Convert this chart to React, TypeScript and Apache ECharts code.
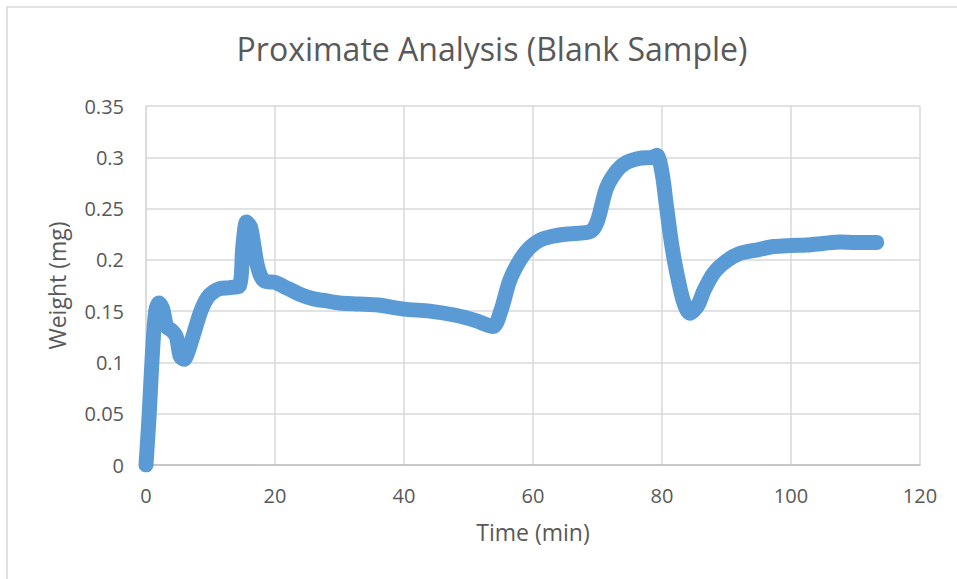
import React, { useEffect, useRef } from "react";
import * as echarts from "echarts";

// Time (min) and recorded weight (mg) of the blank sample run
const timeMin = [
  0, 0.5, 1.0, 1.5, 2.0, 2.6, 3.2, 4.0, 4.7, 5.3, 5.9, 6.6, 7.5, 8.5, 9.5, 10.5,
  11.5, 13, 14.5, 15.0, 15.6, 16.2, 16.7, 17.2, 17.8, 18.5, 20, 22, 24, 26, 28,
  30, 33, 36, 40, 44, 48, 51, 53.8, 55, 56.4, 58, 59.5, 61, 63, 65, 67, 69, 70,
  71.4, 73, 74.5, 76.5, 78.5, 79.2, 80, 80.7, 81.5, 82.3, 83.3, 84.3, 85.5, 86.5,
  88, 90, 92, 95, 97.3, 100, 102.4, 105, 107.6, 110, 113.3,
];
const weightMg = [
  0, 0.05, 0.11, 0.15, 0.158, 0.152, 0.135, 0.131, 0.125, 0.106, 0.103, 0.112,
  0.13, 0.15, 0.163, 0.169, 0.172, 0.173, 0.175, 0.212, 0.237, 0.232, 0.215, 0.196,
  0.184, 0.179, 0.178, 0.172, 0.166, 0.162, 0.16, 0.158, 0.157, 0.156, 0.152,
  0.15, 0.146, 0.141, 0.135, 0.15, 0.18, 0.2, 0.212, 0.219, 0.223, 0.225, 0.226,
  0.228, 0.238, 0.27, 0.287, 0.295, 0.299, 0.3, 0.302, 0.285, 0.252, 0.215,
  0.187, 0.16, 0.148, 0.155, 0.17, 0.187, 0.199, 0.206, 0.21, 0.213, 0.214,
  0.2145, 0.216, 0.2175, 0.217, 0.217,
];

const titleText = "Proximate Analysis (Blank Sample)";
const xAxisName = "Time (min)";
const yAxisName = "Weight (mg)";

const FONT = "'Open Sans', Lato, sans-serif";
const TEXT_COLOR = "#595959";

export default function App() {
  const ref = useRef<HTMLDivElement>(null);

  useEffect(() => {
    if (!ref.current) return;
    const chart = echarts.init(ref.current, undefined, { renderer: "svg" });
    const points = timeMin.map((t, i) => [t, weightMg[i]]);

    chart.setOption({
      animation: false,
      backgroundColor: "#ffffff",
      textStyle: { fontFamily: FONT },
      title: {
        text: titleText,
        left: 487,
        top: 27,
        textAlign: "center",
        textStyle: {
          fontFamily: FONT,
          fontSize: 32,
          fontWeight: "normal",
          color: TEXT_COLOR,
        },
      },
      graphic: [
        {
          type: "rect",
          shape: { x: 7, y: 7, width: 1000, height: 1000 },
          style: { fill: "none", stroke: "#D9D9D9", lineWidth: 1.5 },
          silent: true,
        },
      ],
      grid: { left: 146, right: 37, top: 106, bottom: 114 },
      xAxis: {
        type: "value",
        min: 0,
        max: 120,
        interval: 20,
        name: xAxisName,
        nameLocation: "middle",
        nameGap: 55,
        nameTextStyle: { fontFamily: FONT, fontSize: 23, color: TEXT_COLOR },
        axisLine: { show: true, lineStyle: { color: "#BFBFBF", width: 1.5 } },
        axisTick: { show: false },
        axisLabel: { fontFamily: FONT, fontSize: 20, color: TEXT_COLOR, margin: 20 },
        splitLine: { show: true, lineStyle: { color: "#D9D9D9", width: 1.5 } },
      },
      yAxis: {
        type: "value",
        min: 0,
        max: 0.35,
        interval: 0.05,
        name: yAxisName,
        nameLocation: "middle",
        nameGap: 78,
        nameTextStyle: { fontFamily: FONT, fontSize: 23, color: TEXT_COLOR },
        axisLine: { show: true, lineStyle: { color: "#D9D9D9", width: 1.5 } },
        axisTick: { show: false },
        axisLabel: { fontFamily: FONT, fontSize: 20, color: TEXT_COLOR, margin: 22 },
        splitLine: { show: true, lineStyle: { color: "#D9D9D9", width: 1.5 } },
      },
      series: [
        {
          type: "line",
          data: points,
          symbol: "none",
          smooth: 0.3,
          lineStyle: { color: "#5B9BD5", width: 15, cap: "round", join: "round" },
        },
      ],
    });

    return () => chart.dispose();
  }, []);

  return (
    <div
      ref={ref}
      style={{ position: "absolute", left: 0, top: 0, width: 957, height: 579 }}
    />
  );
}
